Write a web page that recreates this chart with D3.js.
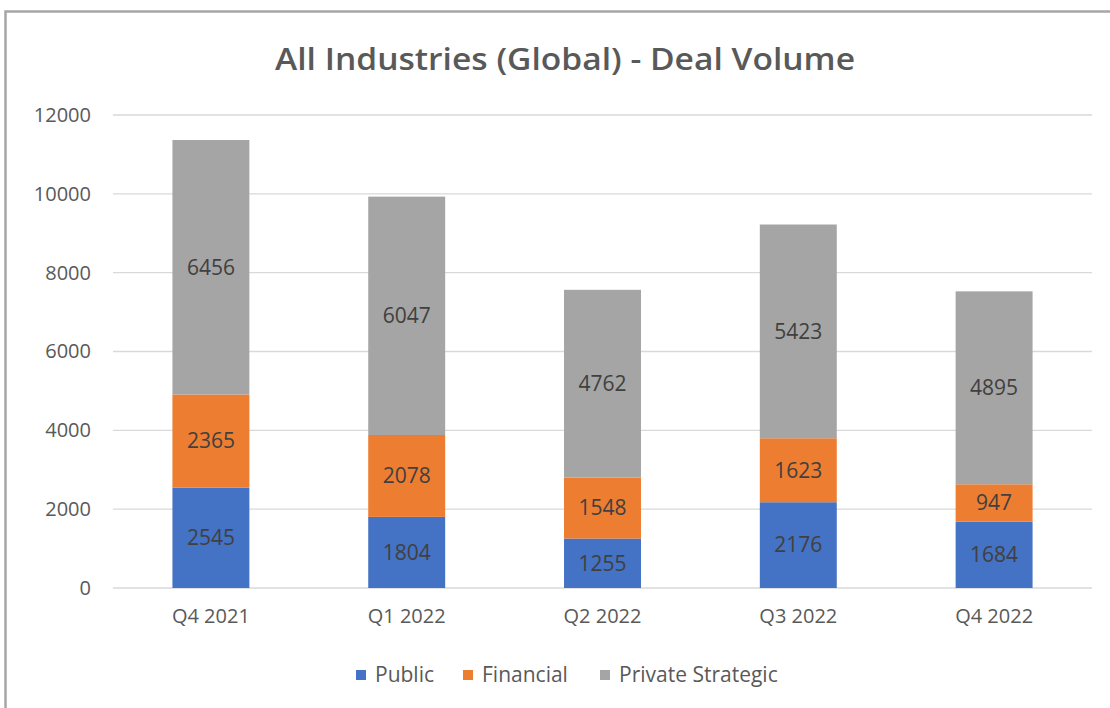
<!DOCTYPE html>
<html>
<head>
<meta charset="utf-8">
<script src="https://cdn.jsdelivr.net/npm/d3@7"></script>
<style>
  body { margin: 0; background: #fff; }
  text { font-family: "Open Sans", "Noto Sans", sans-serif; }
</style>
</head>
<body>
<div class="canvas"></div>
<script>
const quarters = ["Q4 2021", "Q1 2022", "Q2 2022", "Q3 2022", "Q4 2022"];
const seriesNames = ["Public", "Financial", "Private Strategic"];
const publicDeals = [2545, 1804, 1255, 2176, 1684];
const financialDeals = [2365, 2078, 1548, 1623, 947];
const privateDeals = [6456, 6047, 4762, 5423, 4895];
const yTicks = [0, 2000, 4000, 6000, 8000, 10000, 12000];

const width = 1110;
const height = 708;
const marginTop = 115;
const marginLeft = 113;
const marginRight = 18;
const colors = ["#4472C4", "#ED7D31", "#A5A5A5"];

// rows for the stack
const rows = quarters.map((q, i) => ({
  quarter: q,
  "Public": publicDeals[i],
  "Financial": financialDeals[i],
  "Private Strategic": privateDeals[i]
}));
const stacked = d3.stack().keys(seriesNames)(rows);

const x = d3.scaleBand()
  .domain(quarters)
  .range([marginLeft, width - marginRight])
  .paddingInner(0.607)
  .paddingOuter(0.3035);

const y = d3.scaleLinear()
  .domain([0, 12000])
  .range([588, marginTop]);

const svg = d3.select(".canvas").append("svg")
  .attr("width", width)
  .attr("height", height);

// chart frame
svg.append("rect")
  .attr("x", 5.5).attr("y", 11.5)
  .attr("width", width - 4).attr("height", height)
  .attr("fill", "none")
  .attr("stroke", "#a6a6a6")
  .attr("stroke-width", 2.5);

svg.append("text")
  .attr("x", 275).attr("y", 70)
  .attr("textLength", 580)
  .attr("lengthAdjust", "spacingAndGlyphs")
  .attr("font-size", 31)
  .attr("font-weight", 600)
  .attr("fill", "#595959")
  .text("All Industries (Global) - Deal Volume");

// grid
svg.append("g")
  .selectAll("line")
  .data(yTicks)
  .join("line")
    .attr("x1", marginLeft).attr("x2", width - marginRight)
    .attr("y1", d => y(d)).attr("y2", d => y(d))
    .attr("stroke", "#d9d9d9")
    .attr("stroke-width", 1.3);

const yAxis = d3.axisLeft(y).tickValues(yTicks).tickFormat(d3.format("d"))
  .tickSize(0).tickPadding(22);
const gy = svg.append("g")
  .attr("transform", translate(marginLeft, 0))
  .call(yAxis);
gy.select(".domain").remove();
gy.selectAll("text")
  .attr("font-size", 20)
  .attr("fill", "#595959")
  .attr("font-family", "Open Sans, sans-serif");

const xAxis = d3.axisBottom(x).tickSize(0).tickPadding(21);
const gx = svg.append("g")
  .attr("transform", translate(0, y(0)))
  .call(xAxis);
gx.select(".domain").remove();
gx.selectAll("text")
  .attr("font-size", 20)
  .attr("fill", "#595959")
  .attr("font-family", "Open Sans, sans-serif");

// bars
const layers = svg.append("g")
  .selectAll("g")
  .data(stacked)
  .join("g")
    .attr("fill", (d, i) => colors[i]);

layers.selectAll("rect")
  .data(d => d)
  .join("rect")
    .attr("x", d => x(d.data.quarter))
    .attr("y", d => y(d[1]))
    .attr("width", x.bandwidth())
    .attr("height", d => y(d[0]) - y(d[1]));

layers.selectAll("text")
  .data(d => d)
  .join("text")
    .attr("x", d => x(d.data.quarter) + x.bandwidth() / 2)
    .attr("y", d => (y(d[0]) + y(d[1])) / 2)
    .attr("dy", "0.35em")
    .attr("text-anchor", "middle")
    .attr("font-size", 21)
    .attr("fill", "#404040")
    .text(d => d[1] - d[0]);

// legend
const legendX = [356, 463, 600];
const legend = svg.append("g")
  .selectAll("g")
  .data(seriesNames)
  .join("g")
    .attr("transform", (d, i) => translate(legendX[i], 675));
legend.append("rect")
  .attr("x", 0).attr("y", -5)
  .attr("width", 10).attr("height", 10)
  .attr("fill", (d, i) => colors[i]);
legend.append("text")
  .attr("x", 19).attr("dy", "0.35em")
  .attr("font-size", 21)
  .attr("fill", "#595959")
  .text(d => d);

function translate(x, y) {
  return 'translate(' + x + ', ' + y + ')';
}
</script>
</body>
</html>
